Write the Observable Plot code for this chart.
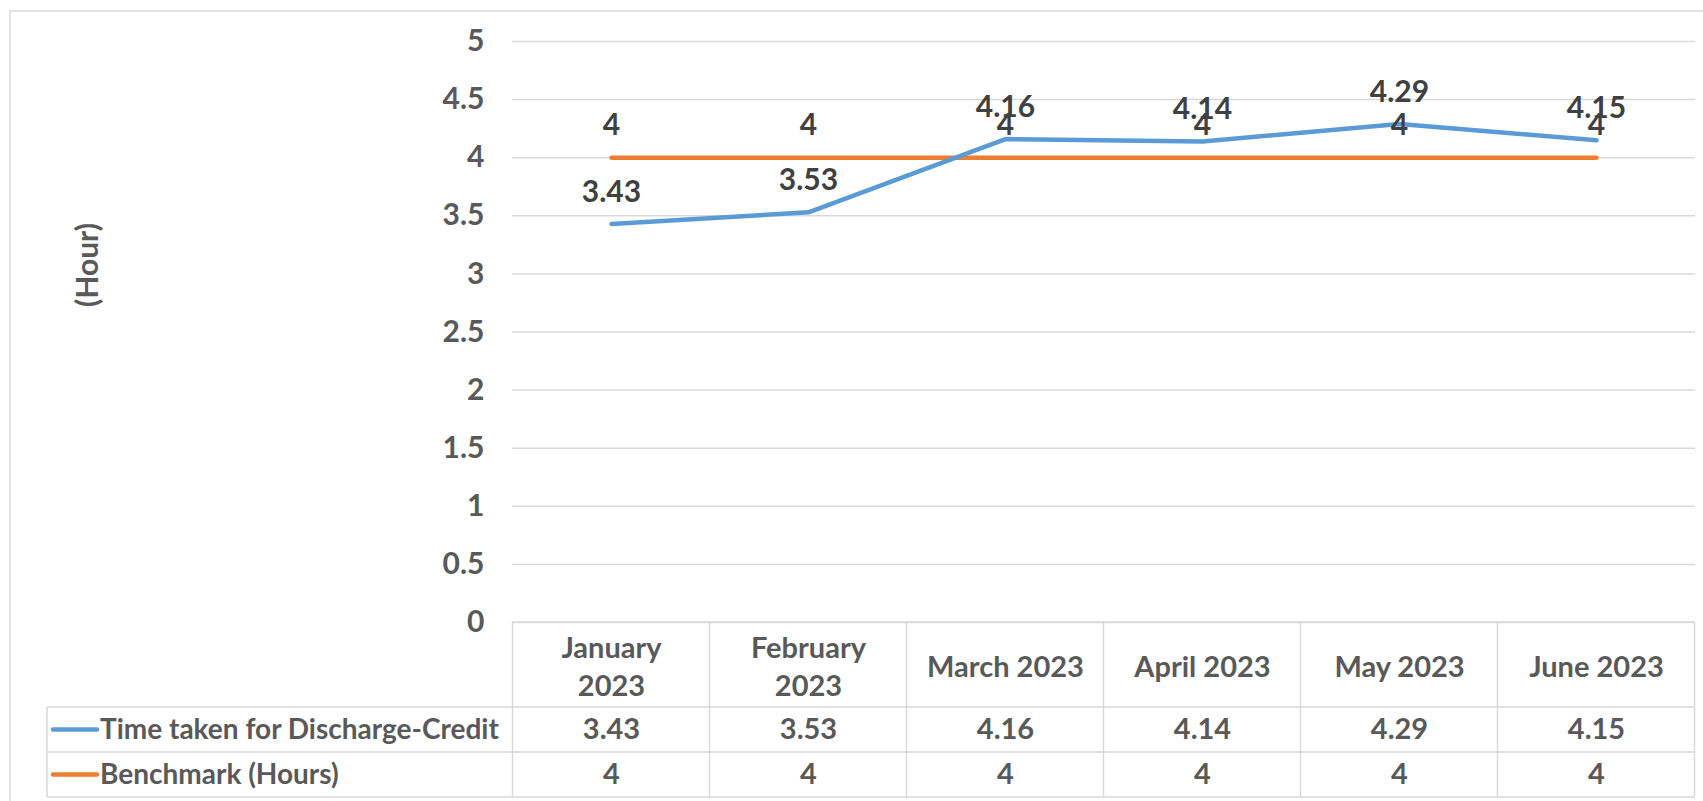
<!DOCTYPE html>
<html>
<head>
<meta charset="utf-8">
<script src="https://cdn.jsdelivr.net/npm/d3@7"></script>
<script src="https://cdn.jsdelivr.net/npm/@observablehq/plot@0.6"></script>
<style>
  html, body { margin: 0; padding: 0; background: #fff; }
  #chart svg { display: block; overflow: visible; }
</style>
</head>
<body>
<div id="chart"></div>
<script>
const months = ["January\n2023", "February\n2023", "March 2023", "April 2023", "May 2023", "June 2023"];
const seriesNames = ["Time taken for Discharge-Credit", "Benchmark (Hours)"];
const dischargeValues = [3.43, 3.53, 4.16, 4.14, 4.29, 4.15];
const benchmarkValues = [4, 4, 4, 4, 4, 4];
const yTicks = [0, 0.5, 1, 1.5, 2, 2.5, 3, 3.5, 4, 4.5, 5];
const colors = ["#5B9BD5", "#ED7D31"];
const yLabel = "(Hour)";

const FONT = "Lato, 'Open Sans', sans-serif";
const FS = 30;

const discharge = months.map((m, i) => ({month: m, value: dischargeValues[i]}));
const benchmark = months.map((m, i) => ({month: m, value: benchmarkValues[i]}));

const W = 1703, H = 801;
const plot = Plot.plot({
  width: W,
  height: H,
  marginTop: 41,
  marginBottom: 179,
  marginLeft: 512,
  marginRight: 8,
  style: {fontFamily: FONT, fontWeight: "bold", fontSize: FS + "px", background: "transparent", overflow: "visible"},
  x: {type: "point", domain: months, padding: 0.5, axis: null},
  y: {domain: [0, 5], ticks: yTicks, axis: null},
  marks: [
    Plot.gridY(yTicks, {stroke: "#D9D9D9", strokeOpacity: 1, strokeWidth: 1.5}),
    Plot.axisY(yTicks, {label: null, tickSize: 0, tickPadding: 28, fill: "#595959", fontSize: FS, fontWeight: "bold", tickFormat: d => String(d), textAnchor: "end"}),
    Plot.line(benchmark, {x: "month", y: "value", stroke: colors[1], strokeWidth: 4.5, strokeLinecap: "round"}),
    Plot.line(discharge, {x: "month", y: "value", stroke: colors[0], strokeWidth: 4.5, strokeLinecap: "round"}),
    Plot.text(benchmark, {x: "month", y: "value", text: d => String(d.value), dy: -32, fill: "#404040", fontSize: FS, fontWeight: "bold", lineAnchor: "middle"}),
    Plot.text(discharge, {x: "month", y: "value", text: d => d.value.toFixed(2), dy: -32, fill: "#404040", fontSize: FS, fontWeight: "bold", lineAnchor: "middle"}),
    // data table: header row and value rows beneath the frame
    Plot.text(months, {x: d => d, text: d => d, frameAnchor: "bottom", dy: 42.5, fill: "#595959", fontSize: FS - 1, fontWeight: "bold", lineAnchor: "middle", lineHeight: 1.3}),
    Plot.text(discharge, {x: "month", text: d => d.value.toFixed(2), frameAnchor: "bottom", dy: 107.5, fill: "#595959", fontSize: FS - 1, fontWeight: "bold", lineAnchor: "middle"}),
    Plot.text(benchmark, {x: "month", text: d => String(d.value), frameAnchor: "bottom", dy: 152.5, fill: "#595959", fontSize: FS - 1, fontWeight: "bold", lineAnchor: "middle"})
  ]
});

const svg = d3.select(plot);
const xs = plot.scale("x");
const ys = plot.scale("y");
const step = xs.apply(months[1]) - xs.apply(months[0]);
const left = xs.apply(months[0]) - step / 2;
const right = xs.apply(months[months.length - 1]) + step / 2;
const y0 = ys.apply(0);
const rowH = [85, 45, 45];
const r1 = y0 + rowH[0], r2 = r1 + rowH[1], r3 = r2 + rowH[2];
const legendLeft = 47;

// outer chart border
svg.insert("rect", ":first-child")
  .attr("x", 10).attr("y", 11).attr("width", W + 20).attr("height", H + 20)
  .attr("fill", "#fff").attr("stroke", "#D9D9D9").attr("stroke-width", 1.5);

const g = svg.append("g").attr("stroke", "#D9D9D9").attr("stroke-width", 1.5);
g.append("line").attr("x1", left).attr("x2", right).attr("y1", y0).attr("y2", y0);
[r1, r2, r3].forEach(y => g.append("line").attr("x1", legendLeft).attr("x2", right).attr("y1", y).attr("y2", y));
for (let i = 0; i <= months.length; i++) {
  const x = left + i * step;
  g.append("line").attr("x1", x).attr("x2", x).attr("y1", y0).attr("y2", r3);
}
g.append("line").attr("x1", legendLeft).attr("x2", legendLeft).attr("y1", r1).attr("y2", r3);

// legend keys inside the table
[[r1, r2], [r2, r3]].forEach(([a, b], i) => {
  const cy = (a + b) / 2;
  svg.append("line").attr("x1", 53).attr("x2", 97).attr("y1", cy).attr("y2", cy)
    .attr("stroke", colors[i]).attr("stroke-width", 4.5).attr("stroke-linecap", "round");
  svg.append("text").attr("x", 100).attr("y", cy).attr("dy", "0.35em")
    .attr("text-anchor", "start")
    .attr("fill", "#595959").attr("font-size", FS - 2).attr("font-weight", "bold")
    .attr("font-family", FONT).text(seriesNames[i]);
});

// y-axis title
svg.append("text")
  .attr("transform", `translate(87,265) rotate(-90)`)
  .attr("text-anchor", "middle").attr("dy", "0.35em")
  .attr("fill", "#595959").attr("font-size", FS).attr("font-weight", "bold")
  .attr("font-family", FONT).text(yLabel);

document.getElementById("chart").appendChild(plot);
</script>
</body>
</html>
